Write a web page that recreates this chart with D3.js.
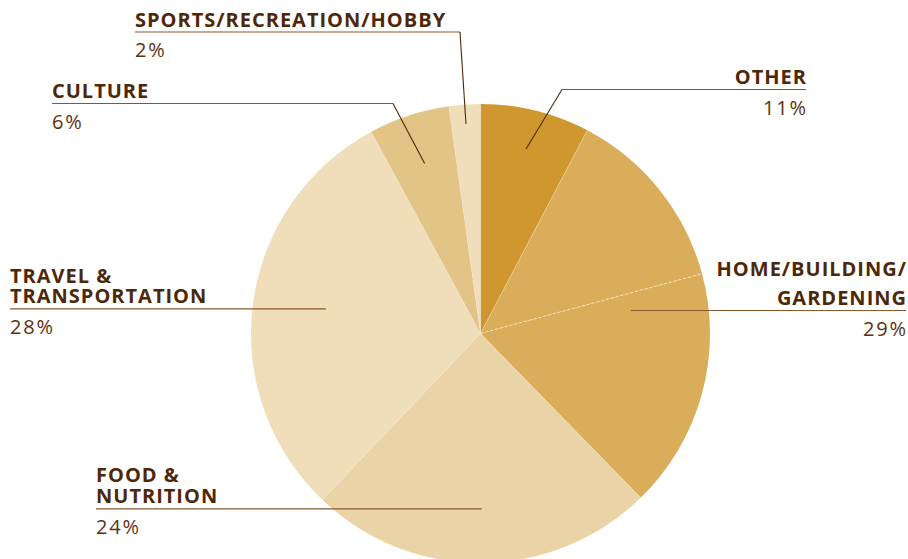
<!DOCTYPE html>
<html lang="en">
<head>
<meta charset="UTF-8">
<title>Pie</title>
<script src="https://cdn.jsdelivr.net/npm/d3@7"></script>
<style>
    body{ margin:0; background:#fff; }
    .cat{ font-family:"Open Sans", sans-serif; font-weight:700; font-size:20px; letter-spacing:1px; fill:#4e2708; }
    .pct{ font-family:"Open Sans", sans-serif; font-weight:400; font-size:20px; letter-spacing:1.8px; fill:#5a3212; }
</style>
</head>
<body>
<svg id="canvas" width="908" height="559"></svg>
<script>
    // categories and the printed percentages
    let categories = ["OTHER", "HOME/BUILDING/GARDENING", "FOOD & NUTRITION", "TRAVEL & TRANSPORTATION", "CULTURE", "SPORTS/RECREATION/HOBBY"]
    let pctLabels = ["11%", "29%", "24%", "28%", "6%", "2%"]
    // wedges as drawn (home is drawn as two pieces of the same colour)
    let sliceCat = [0, 1, 1, 2, 3, 4, 5]
    let sliceShare = [7.7, 13.1, 16.9, 24.4, 30.0, 5.7, 2.2]
    let colors = ["#cf972d", "#daad5b", "#ead4a7", "#f0debb", "#e3c487", "#f0debb"]

    let svg = d3.select("#canvas")
    let cx = 480.5, cy = 333.5, r = 229.5
    let g = svg.append("g").attr("transform", `translate(${cx},${cy})`)

    let pie = d3.pie().sort(null).value(d => d.v)
    let arcs = pie(sliceShare.map((v, i) => ({v: v, c: sliceCat[i]})))
    let arc = d3.arc().innerRadius(0).outerRadius(r)

    g.selectAll("path.slice").data(arcs).enter().append("path")
        .attr("class", "slice")
        .attr("d", arc)
        .attr("fill", d => colors[d.data.c])

    // thin light separators, dashed where the home wedge is split
    g.selectAll("line.sep").data(arcs).enter().append("line")
        .attr("x1", 0).attr("y1", 0)
        .attr("x2", d => d3.pointRadial(d.startAngle, r)[0])
        .attr("y2", d => d3.pointRadial(d.startAngle, r)[1])
        .attr("stroke", "#f6ead2")
        .attr("stroke-width", d => d.index === 2 ? 0.9 : 0.6)
        .attr("stroke-dasharray", d => d.index === 2 ? "3,2" : null)
        .attr("stroke-opacity", d => d.index === 2 ? 0.9 : 0.6)

    // category mid angles (whole category, not split wedge)
    function midAngle(c){
        let a = arcs.filter(d => d.data.c === c)
        return (a[0].startAngle + a[a.length - 1].endAngle) / 2
    }

    // label layout: lines of text, anchor, line height, underline bend, leader radius
    let layout = [
        {lines: ["OTHER"], x: 806, y: 84, anchor: "end", lh: 0, ux: 562, lr: 190},
        {lines: ["HOME/BUILDING/", "GARDENING"], x: 906, y: 276, anchor: "end", lh: 29, ux: null, lr: 152},
        {lines: ["FOOD &", "NUTRITION"], x: 96, y: 481.7, anchor: "start", lh: 21.6, ux: null, lr: 175},
        {lines: ["TRAVEL &", "TRANSPORTATION"], x: 10, y: 283.3, anchor: "start", lh: 20, ux: null, lr: 156},
        {lines: ["CULTURE"], x: 52, y: 98, anchor: "start", lh: 0, ux: 393, lr: 179},
        {lines: ["SPORTS/RECREATION/HOBBY"], x: 135, y: 26.5, anchor: "start", lh: 0, ux: 460, lr: 210}
    ]

    let labels = svg.append("g")
    layout.forEach((L, i) => {
        let shift = L.anchor === "end" ? 1 : 0
        L.lines.forEach((s, k) => {
            labels.append("text").attr("class", "cat")
                .attr("text-anchor", L.anchor)
                .attr("x", L.x + shift).attr("y", L.y + k * L.lh)
                .text(s)
        })
        let uy = L.y + (L.lines.length - 1) * L.lh + 5.5
        labels.append("text").attr("class", "pct")
            .attr("text-anchor", L.anchor)
            .attr("x", L.x + (L.anchor === "end" ? 1.8 : 0)).attr("y", uy + 25)
            .text(pctLabels[i])

        let p = d3.pointRadial(midAngle(i), L.lr)
        let px = cx + p[0], py = cy + p[1]
        if (L.ux === null) {
            // horizontal leader straight into the slice
            labels.append("line").attr("x1", L.x).attr("x2", px).attr("y1", uy).attr("y2", uy)
                .attr("stroke", "#87582c").attr("stroke-width", 1.2)
        } else {
            labels.append("line").attr("x1", L.x).attr("x2", L.ux).attr("y1", uy).attr("y2", uy)
                .attr("stroke", "#87582c").attr("stroke-width", 1.2)
            labels.append("line").attr("x1", L.ux).attr("y1", uy).attr("x2", px).attr("y2", py)
                .attr("stroke", "#4e2708").attr("stroke-width", 1.1)
        }
    })
</script>
</body>
</html>
